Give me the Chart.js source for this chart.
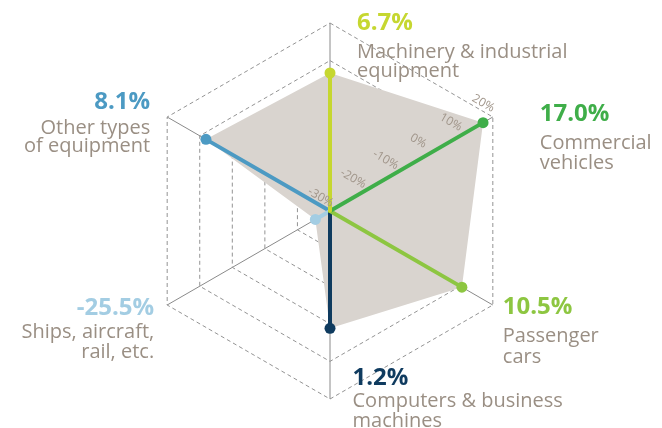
<!DOCTYPE html>
<html>
<head>
<meta charset="utf-8">
<script src="https://cdn.jsdelivr.net/npm/chart.js@4"></script>
<style>
  html, body { margin: 0; padding: 0; background: #fff; }
  #chart { display: block; }
</style>
</head>
<body>
<canvas id="chart" width="662" height="428"></canvas>
<script>
// data
const categories = [
  ['Machinery & industrial', 'equipment'],
  ['Commercial', 'vehicles'],
  ['Passenger', 'cars'],
  ['Computers & business', 'machines'],
  ['Ships, aircraft,', 'rail, etc.'],
  ['Other types', 'of equipment']
];
const growth = [6.7, 17.0, 10.5, 1.2, -25.5, 8.1];
const tickValues = [-30, -20, -10, 0, 10, 20];

const seriesColors = ['#c6d730', '#3fae49', '#8dc641', '#0f3b5f', '#a3cde3', '#4c9ac3'];
const textGray = '#9a8f84';
const scaleMin = tickValues[0];
const scaleMax = tickValues[tickValues.length - 1];

// where each category label sits relative to its outer vertex
const labelLayout = [
  { dx: 27, dy: 7, align: 'left', gap: 28, lead: 19 },
  { dx: 47, dy: 4, align: 'left', gap: 27.5, lead: 20.5 },
  { dx: 10, dy: 9, align: 'left', gap: 27.5, lead: 21 },
  { dx: 22.5, dy: -14.5, align: 'left', gap: 22.5, lead: 19.5 },
  { dx: -13, dy: 9.5, align: 'right', gap: 23.5, lead: 20 },
  { dx: -17, dy: -8.5, align: 'right', gap: 25, lead: 18.5 }
];

// one dataset per spoke: the point sits at its value, the rest collapse to the centre
const spokes = categories.map((c, i) => ({
  data: growth.map((v, j) => (j === i ? v : scaleMin)),
  borderColor: seriesColors[i],
  borderWidth: 4,
  borderJoinStyle: 'round',
  fill: false,
  tension: 0,
  pointRadius: growth.map((v, j) => (j === i ? 5.5 : 0)),
  pointHoverRadius: 0,
  pointBackgroundColor: seriesColors[i],
  pointBorderWidth: 0,
  order: 1,
  rAxisID: 'r'
}));

const area = {
  data: growth,
  backgroundColor: '#d9d4cf',
  borderColor: 'rgba(0,0,0,0)',
  borderWidth: 0,
  pointRadius: 0,
  fill: 'start',
  tension: 0,
  order: 10,
  rAxisID: 'r'
};

const annotations = {
  id: 'annotations',
  afterDraw(chart) {
    const scale = chart.scales.r;
    const ctx = chart.ctx;
    ctx.save();

    // tick labels run along the commercial-vehicles edge
    ctx.font = '12px "Open Sans"';
    ctx.fillStyle = '#a1968b';
    ctx.textAlign = 'center';
    ctx.textBaseline = 'middle';
    tickValues.forEach(v => {
      const p = scale.getPointPositionForValue(1, v);
      ctx.save();
      ctx.translate(p.x, p.y);
      ctx.rotate(Math.PI / 6);
      ctx.fillText(v + '%', -15, -7);
      ctx.restore();
    });

    // value + category name at each vertex
    categories.forEach((lines, i) => {
      const p = scale.getPointPositionForValue(i, scale.max);
      const L = labelLayout[i];
      const x = p.x + L.dx;
      const y = p.y + L.dy;
      ctx.textAlign = L.align;
      ctx.textBaseline = 'alphabetic';
      ctx.font = 'bold 24px "Open Sans"';
      ctx.fillStyle = seriesColors[i];
      ctx.fillText(growth[i].toFixed(1) + '%', x, y);
      ctx.font = '20px "Open Sans"';
      ctx.fillStyle = textGray;
      lines.forEach((t, k) => ctx.fillText(t, x, y + L.gap + k * L.lead));
    });

    ctx.restore();
  }
};

new Chart(document.getElementById('chart'), {
  type: 'radar',
  data: {
    labels: categories,
    datasets: [...spokes, area]
  },
  options: {
    responsive: false,
    animation: false,
    events: [],
    layout: { padding: { top: 23, bottom: 29, left: 0, right: 2 } },
    plugins: {
      legend: { display: false },
      tooltip: { enabled: false }
    },
    scales: {
      r: {
        min: scaleMin,
        max: scaleMax,
        ticks: { display: false, stepSize: 10 },
        grid: { display: false },
        angleLines: { color: '#8a8a8a', lineWidth: 1 },
        pointLabels: { display: false }
      },
      rGrid: {
        type: 'radialLinear',
        axis: 'r',
        z: 1,
        min: scaleMin,
        max: scaleMax,
        ticks: { display: false, stepSize: 10 },
        grid: { color: '#939393', lineWidth: 1 },
        border: { dash: [4, 3] },
        angleLines: { display: false },
        pointLabels: { display: false }
      }
    }
  },
  plugins: [annotations]
});
</script>
</body>
</html>
